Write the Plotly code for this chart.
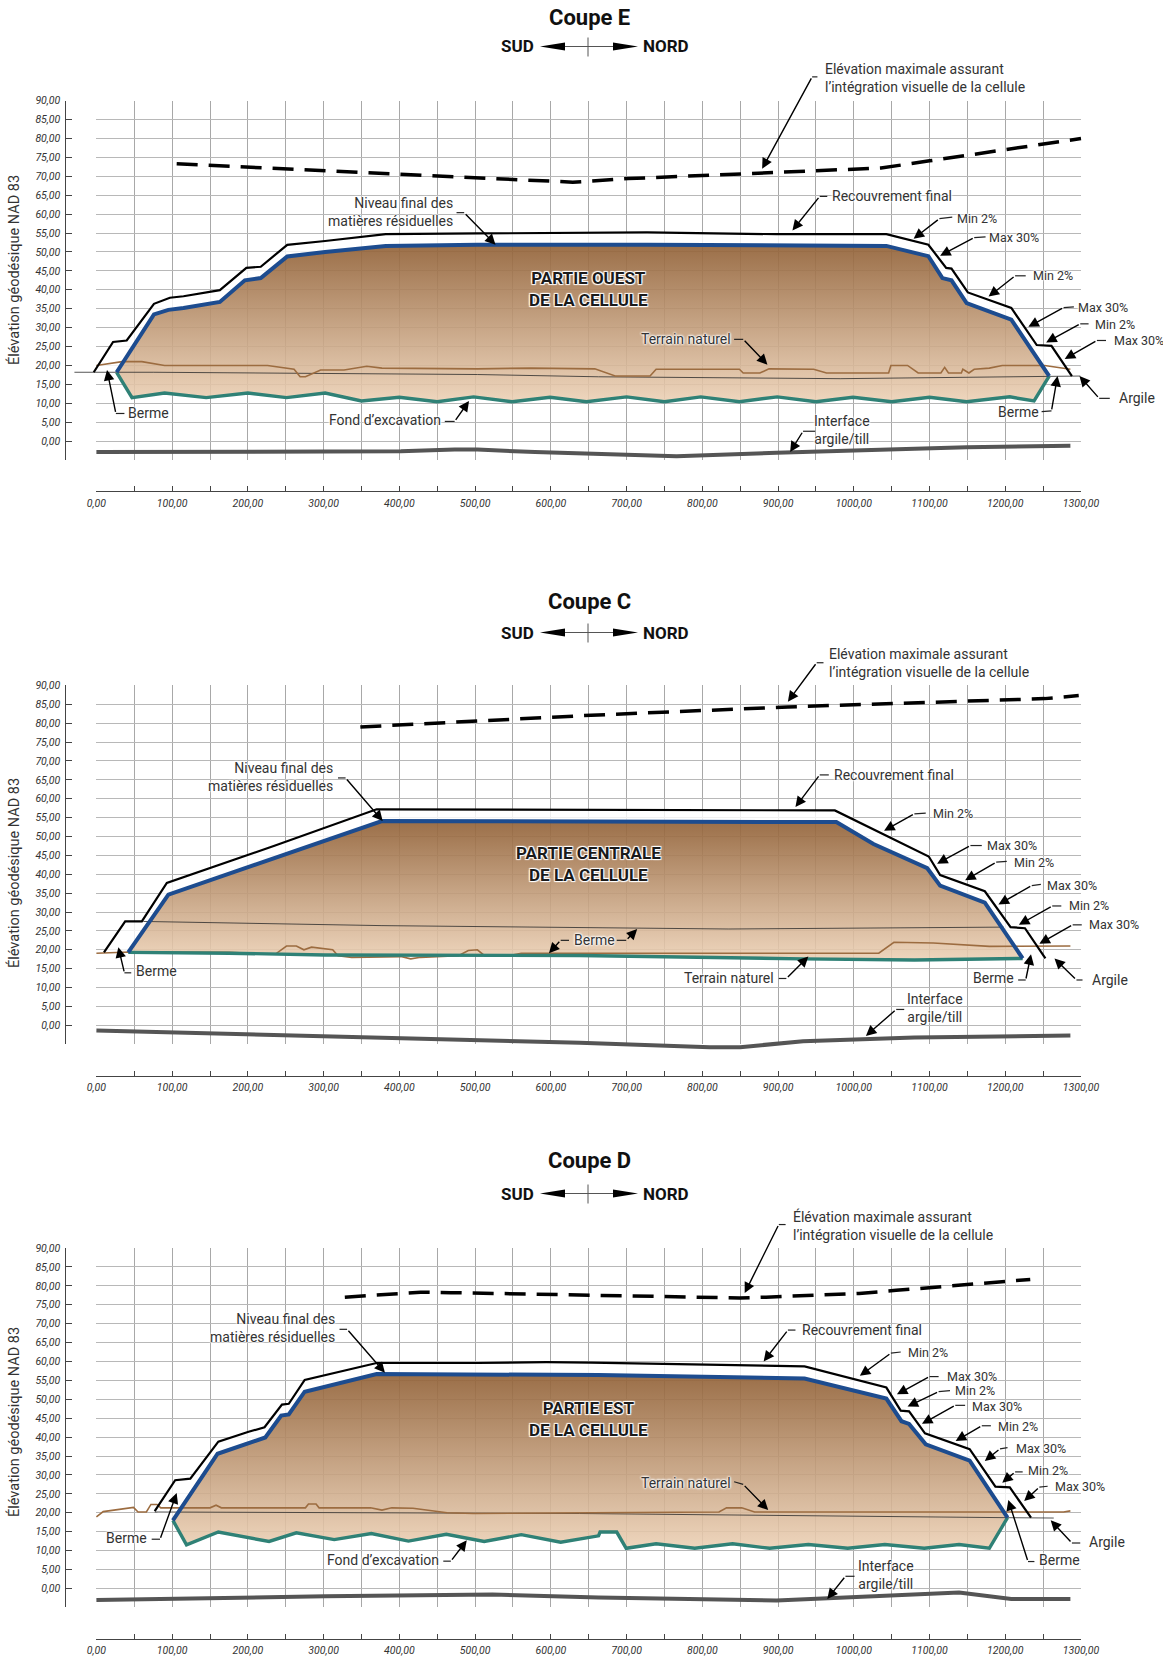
import plotly.graph_objects as go

X_TICKS = [0, 50, 100, 150, 200, 250, 300, 350, 400, 450, 500, 550, 600, 650, 700, 750, 800, 850, 900, 950, 1000, 1050, 1100, 1150, 1200, 1250, 1300]
X_TICK_LABELS = ["0,00", "", "100,00", "", "200,00", "", "300,00", "", "400,00", "", "500,00", "", "600,00", "", "700,00", "", "800,00", "", "900,00", "", "1000,00", "", "1100,00", "", "1200,00", "", "1300,00"]
Y_TICKS = [-5, 0, 5, 10, 15, 20, 25, 30, 35, 40, 45, 50, 55, 60, 65, 70, 75, 80, 85, 90]
Y_TICK_LABELS = ["", "0,00", "5,00", "10,00", "15,00", "20,00", "25,00", "30,00", "35,00", "40,00", "45,00", "50,00", "55,00", "60,00", "65,00", "70,00", "75,00", "80,00", "85,00", "90,00"]

# ---- Coupe E ----
e_cover_x = [-3.5, 22, 40, 76, 97, 115, 163, 198, 217, 252, 302, 382, 503, 727, 898, 1043, 1098.5, 1122, 1129, 1150.6, 1208, 1241.5, 1261, 1288]
e_cover_y = [18.2, 26.2, 26.6, 36.3, 37.9, 38.3, 39.9, 45.8, 46.1, 51.9, 52.9, 54.7, 54.9, 55.2, 54.7, 54.7, 51.9, 45.8, 45.6, 39.3, 35.2, 25.4, 25.2, 17.2]
e_waste_x = [26.7, 76, 95, 115, 163, 196, 217, 252, 302, 382, 503, 727, 1043, 1098.5, 1117, 1129, 1149, 1208, 1258]
e_waste_y = [18.2, 33.5, 34.7, 35.2, 36.8, 42.5, 43.1, 48.8, 50, 51.6, 51.9, 51.9, 51.6, 48.9, 43.1, 42.5, 36.5, 32.1, 17.2]
e_bottom_x = [26.7, 47, 90, 145, 200, 251, 302, 350, 400, 450, 498, 549, 599, 647, 700, 750, 798, 849, 899, 950, 999, 1050, 1100, 1149, 1206, 1238, 1258]
e_bottom_y = [18.2, 11.5, 12.7, 11.5, 12.7, 11.5, 12.7, 10.6, 11.6, 10.4, 11.7, 10.4, 11.6, 10.4, 11.7, 10.4, 11.7, 10.4, 11.7, 10.4, 11.6, 10.4, 11.6, 10.4, 11.7, 10.6, 17.2]
e_ground_x = [0, 34, 60, 90, 226, 261, 269, 276, 296, 327, 357, 377, 503, 574, 658, 685, 731, 739, 849, 854, 876, 888, 947, 964, 1046, 1049, 1071, 1085, 1115, 1120, 1125, 1142, 1144, 1152, 1159, 1179, 1196, 1252, 1286]
e_ground_y = [20, 21, 21, 20, 20, 19, 17, 17, 18.8, 18.8, 19.8, 19.3, 19.1, 19.3, 19.1, 17.2, 17.2, 19, 19, 18, 18, 19.1, 19, 18, 18, 20, 20, 18, 18, 19.5, 18, 18, 19, 18, 19, 19.3, 20, 20, 19]
e_clay_x = [-29, 75, 503, 663, 982, 1252, 1299]
e_clay_y = [18.2, 18.2, 17.6, 17, 16.5, 17, 17.2]
e_till_x = [0, 226, 402, 473, 503, 579, 663, 766, 898, 1149, 1286]
e_till_y = [-2.9, -2.7, -2.7, -2.25, -2.25, -2.9, -3.4, -4, -3.1, -1.6, -1.2]
e_limit_x = [106, 629, 702, 874, 1036, 1100, 1300]
e_limit_y = [73.3, 68.45, 69.4, 70.8, 72.2, 74.1, 80]

# ---- Coupe C ----
c_cover_x = [10, 38, 60, 93, 236, 370, 975, 1099, 1114, 1173, 1207, 1226, 1253]
c_cover_y = [19.3, 27.5, 27.5, 37.7, 47.6, 57.2, 56.9, 44.7, 39.8, 35.5, 26, 25.7, 17.7]
c_waste_x = [42, 95, 377, 977, 1026, 1097, 1114, 1173, 1223]
c_waste_y = [19.3, 34.6, 54.1, 53.8, 48, 41.6, 37, 32.5, 17.7]
c_bottom_x = [42, 175, 302, 638, 933, 1080, 1223]
c_bottom_y = [19.3, 19.1, 18.6, 18.5, 17.6, 17.3, 17.7]
c_ground_x = [0, 44, 175, 236, 251, 264, 274, 284, 312, 319, 337, 402, 415, 428, 478, 491, 503, 513, 549, 561, 599, 1033, 1053, 1105, 1179, 1286]
c_ground_y = [19.1, 19.4, 19.3, 18.8, 21, 21, 20, 20.7, 20, 18.4, 18, 18.2, 17.6, 18, 18.4, 19.8, 20, 18.4, 18.6, 19.1, 19.1, 19.1, 22, 21.8, 20.9, 21]
c_clay_x = [62, 377, 835, 1198]
c_clay_y = [27.5, 26.4, 25.5, 26]
c_till_x = [0, 503, 638, 810, 850, 933, 1080, 1286]
c_till_y = [-1.4, -4, -4.6, -5.8, -5.8, -4.2, -3.2, -2.7]
c_limit_x = [348.5, 643, 913, 1130, 1252, 1297]
c_limit_y = [79, 82, 84.3, 85.6, 86.5, 87.3]

# ---- Coupe D ----
d_cover_x = [77, 104, 124, 161, 201, 222, 245, 254, 275, 302, 370, 503, 594, 653, 849, 935, 1043, 1062, 1073, 1094, 1153, 1187, 1206, 1234]
d_cover_y = [20.4, 28.6, 29, 38.8, 41.4, 42.6, 48.6, 48.8, 55.1, 56.4, 59.6, 59.6, 59.8, 59.7, 58.9, 58.7, 53.1, 47, 46.8, 41, 36.8, 26.9, 26.7, 18.7]
d_waste_x = [101, 160, 223, 244, 254, 275, 370, 663, 935, 1043, 1063, 1073, 1095, 1153, 1203]
d_waste_y = [18, 35.6, 39.9, 45.7, 46, 52, 56.7, 56.4, 55.5, 50.2, 44.2, 43.5, 38.1, 33.8, 18.7]
d_bottom_x = [101, 119, 161, 228, 264, 314, 363, 412, 462, 512, 561, 613, 663, 665, 687, 699.5, 739, 790, 840, 889, 940, 992, 1041, 1093, 1139, 1179, 1203]
d_bottom_y = [18, 11.5, 14.9, 12.4, 14.7, 12.9, 14.5, 12.5, 14.3, 12.4, 14.2, 12.2, 13.9, 14.9, 14.9, 10.6, 11.8, 10.6, 11.8, 10.6, 11.6, 10.6, 11.6, 10.6, 11.6, 10.6, 18.7]
d_ground_x = [0, 9, 49, 55, 66, 72, 80, 85, 150, 158, 165, 276, 280, 290, 294, 362, 377, 390, 418, 463, 498, 663, 800, 822, 832, 852, 869, 1277, 1286]
d_ground_y = [18.9, 20.3, 21.4, 20.2, 20.2, 22.2, 22.2, 21.3, 21.3, 22, 21.3, 21.3, 22.3, 22.3, 21.3, 21.3, 20.7, 21.3, 21.2, 20, 19.8, 20, 20.2, 20.2, 21.3, 21.3, 20.2, 20.2, 20.5]
d_clay_x = [77, 462, 638, 1200, 1264]
d_clay_y = [20.2, 20, 19.8, 18.7, 18.6]
d_till_x = [0, 100, 302, 523, 663, 898, 1139, 1208, 1286]
d_till_y = [-3.1, -2.7, -2.1, -1.6, -2.4, -3.2, -1.1, -2.8, -2.8]
d_limit_x = [328, 428, 468, 663, 849, 884, 1007, 1056, 1233]
d_limit_y = [77, 78.3, 78.2, 77.4, 76.8, 77, 78, 78.8, 81.7]

ELEV = "Elévation maximale assurant<br>l’intégration visuelle de la cellule"
NIV = "Niveau final des<br>matières résiduelles"
INT = "Interface<br>argile/till"

# text, text x, text y, anchor, leader start, elbow, arrow head (axis units)
e_labels = [
    (ELEV, 960, 96, "left", (952, 96.3), (945, 96.3), (879, 72)),
    ("Recouvrement final", 968, 64.7, "left", (965, 64.7), (955, 64.7), (919, 55.7)),
    ("Min 2%", 1133, 58.8, "left", (1130, 59.2), (1113, 58.8), (1079, 53.5)),
    ("Max 30%", 1176, 53.8, "left", (1174, 54), (1159, 53.8), (1114, 49)),
    ("Min 2%", 1234, 43.7, "left", (1227, 43.7), (1213, 43.7), (1178, 38.2)),
    ("Max 30%", 1293, 35.2, "left", (1290.6, 35.5), (1277, 35.3), (1230.5, 30.2)),
    ("Min 2%", 1316, 30.9, "left", (1310, 31), (1299, 31), (1254, 26.1)),
    ("Max 30%", 1341, 26.6, "left", (1333, 26.6), (1321, 26.6), (1278.5, 21.7)),
    ("Argile", 1347, 11.3, "left", (1338, 11.3), (1324, 11.3), (1298, 17.2)),
    ("Berme", 1247, 7.8, "right", (1248, 7.8), (1261, 8), (1269, 17.2)),
    (INT, 985, 3, "center", (949, 2.6), (933, 2.6), (916, -2.9)),
    ("Terrain naturel", 840, 26.9, "right", (842, 26.9), (854, 26.9), (886, 20.2)),
    (NIV, 474, 60.7, "right", (475.5, 60.4), (485.6, 60.4), (527, 51.9)),
    ("Berme", 39.3, 7.5, "left", (37, 7.3), (25.7, 7.3), (14, 18.8)),
    ("Fond d’excavation", 458, 5.6, "right", (460, 5.2), (473, 5.2), (492, 10.6)),
]
c_labels = [
    (ELEV, 965, 95.9, "left", (960, 96), (951, 96), (913, 85.7)),
    ("Recouvrement final", 971, 66.3, "left", (967, 66.3), (955, 66.3), (923, 57.8)),
    ("Min 2%", 1101.5, 56.2, "left", (1095, 56.2), (1080, 56), (1040, 51.5)),
    ("Max 30%", 1173, 47.6, "left", (1169, 47.6), (1154, 47.6), (1110, 42.8)),
    ("Min 2%", 1209, 43.2, "left", (1202, 43.4), (1188, 43.2), (1147, 38.4)),
    ("Max 30%", 1253, 37, "left", (1247, 37.3), (1235, 37), (1191, 32)),
    ("Min 2%", 1281, 31.6, "left", (1274, 31.6), (1262, 31.6), (1218, 26.6)),
    ("Max 30%", 1308, 26.6, "left", (1301, 26.6), (1289, 26.6), (1245, 21.6)),
    ("Argile", 1312, 12, "left", (1302, 12), (1294, 12), (1265, 17.7)),
    ("Berme", 1214, 12.4, "right", (1217, 12), (1227, 12), (1234, 18.8)),
    (INT, 1107, 4.5, "center", (1066.6, 4.2), (1056, 4.2), (1016, -2.8)),
    ("Terrain naturel", 897, 12.4, "right", (901, 12.4), (911, 12.4), (940, 18.2)),
    ("Berme", 628, 22.5, "left", (624, 22.5), (613, 22.5), (597.5, 19.1)),
    ("", 690, 22.5, "left", (687, 22.5), (699.5, 22.5), (714, 25.5)),
    (NIV, 315, 65.8, "right", (319, 65.5), (329, 65.5), (378, 54.1)),
    ("Berme", 49.4, 14.3, "left", (46, 13.9), (37, 13.9), (29, 20.7)),
]
d_labels = [
    ("Élévation maximale assurant<br>l’intégration visuelle de la cellule", 917, 96, "left", (910, 96.2), (901, 96.2), (856, 78.1)),
    ("Recouvrement final", 929, 68.3, "left", (923, 68.3), (913, 68.3), (881, 60)),
    ("Min 2%", 1069.5, 62.5, "left", (1062, 62.5), (1049, 62.2), (1008, 56.2)),
    ("Max 30%", 1120, 56, "left", (1112, 56), (1100, 56), (1057, 51.3)),
    ("Min 2%", 1131, 52.3, "left", (1127, 52.3), (1112, 52), (1071, 48.1)),
    ("Max 30%", 1153, 48.2, "left", (1147, 48.4), (1134, 48.4), (1090, 43.5)),
    ("Min 2%", 1188, 42.9, "left", (1181, 43), (1169, 43), (1134.5, 39)),
    ("Max 30%", 1211, 37, "left", (1203, 37.2), (1193, 36.9), (1173, 33.7)),
    ("Min 2%", 1228, 31.2, "left", (1223, 30.8), (1213, 30.8), (1196, 27.9)),
    ("Max 30%", 1263, 27, "left", (1256, 27), (1245, 26.8), (1225, 23.1)),
    ("Argile", 1308, 12.2, "left", (1299, 12), (1288, 12), (1260, 18)),
    ("Berme", 1241.5, 7.6, "left", (1238.5, 7.1), (1230, 7.1), (1204, 23.4)),
    (INT, 1043, 3.5, "center", (1001, 3.2), (989, 3.2), (965, -2.8)),
    ("Terrain naturel", 840, 27.9, "right", (842, 28.2), (854, 27.5), (887, 20.7)),
    (NIV, 318, 68.75, "right", (321, 68.5), (331, 68.5), (381, 57)),
    ("Berme", 70, 13.3, "right", (73, 13), (84, 13), (106, 25.2)),
    ("Fond d’excavation", 455, 7.6, "right", (458, 7.2), (468, 7.2), (489, 12.7)),
]

COUPES = [
    dict(name="Coupe E", zone="PARTIE OUEST<br>DE LA CELLULE", zone_y=40.3, top=100.7, bottom=460.0, axis_y=491.0,
         title_y=17, dir_y=46.5, cover=(e_cover_x, e_cover_y), waste=(e_waste_x, e_waste_y), base=(e_bottom_x, e_bottom_y),
         ground=(e_ground_x, e_ground_y), clay=(e_clay_x, e_clay_y), till=(e_till_x, e_till_y), limit=(e_limit_x, e_limit_y), labels=e_labels, ylab=270),
    dict(name="Coupe C", zone="PARTIE CENTRALE<br>DE LA CELLULE", zone_y=42.6, top=685.4, bottom=1044.2, axis_y=1075.5,
         title_y=601, dir_y=632.5, cover=(c_cover_x, c_cover_y), waste=(c_waste_x, c_waste_y), base=(c_bottom_x, c_bottom_y),
         ground=(c_ground_x, c_ground_y), clay=(c_clay_x, c_clay_y), till=(c_till_x, c_till_y), limit=(c_limit_x, c_limit_y), labels=c_labels, ylab=873),
    dict(name="Coupe D", zone="PARTIE EST<br>DE LA CELLULE", zone_y=44.7, top=1248.0, bottom=1607.3, axis_y=1638.8,
         title_y=1160, dir_y=1193.5, cover=(d_cover_x, d_cover_y), waste=(d_waste_x, d_waste_y), base=(d_bottom_x, d_bottom_y),
         ground=(d_ground_x, d_ground_y), clay=(d_clay_x, d_clay_y), till=(d_till_x, d_till_y), limit=(d_limit_x, d_limit_y), labels=d_labels, ylab=1422),
]

W, H = 1163, 1660
LEFT, RIGHT = 96.4, 1081.0
FONT = "Roboto"
TEXT = "#333333"
HALO = "0 0 2px #fff, 0 0 2px #fff, 0 0 3px #fff, 0 0 3px #fff"
OUTLINE = "1px 1px 1px #fff, -1px -1px 1px #fff, 1px -1px 1px #fff, -1px 1px 1px #fff"
# the curves may overshoot the grid a little, so they use wider hidden axes with the same scale
PAD_X = (-40, 1325)
PAD_Y = -8


def px(v):
    return v / W


def py(v):
    return 1 - v / H


fig = go.Figure()
annotations, shapes = [], []
layout_axes = {}


def add_line(c, xa, ya, key, color, width, dash=None, name=None):
    xs, ys = c[key]
    line = dict(color=color, width=width)
    if dash:
        line["dash"] = dash
    fig.add_trace(go.Scatter(x=xs, y=ys, mode="lines", line=line, xaxis=xa, yaxis=ya,
                             hoverinfo="skip", showlegend=False, name=name))


# body fills first (visible axes), then curves (hidden wider axes)
for i, c in enumerate(COUPES):
    n = "" if i == 0 else str(i + 1)
    xa, ya = "x" + n, "y" + n
    cx, cy = c["cover"]
    wx, wy = c["waste"]
    bx, by = c["base"]
    fig.add_trace(go.Scatter(x=list(cx) + list(wx)[::-1], y=list(cy) + list(wy)[::-1], mode="none", fill="toself",
                             fillcolor="rgba(255,255,255,0.8)", xaxis=xa, yaxis=ya, hoverinfo="skip", showlegend=False))
    fig.add_trace(go.Scatter(x=list(wx) + list(bx)[::-1], y=list(wy) + list(by)[::-1], mode="none", fill="toself",
                             fillgradient=dict(type="vertical", colorscale=[[0, "rgba(236,208,180,0.88)"], [1, "rgba(146,98,56,0.92)"]]),
                             xaxis=xa, yaxis=ya, hoverinfo="skip", showlegend=False))

for i, c in enumerate(COUPES):
    n = "" if i == 0 else str(i + 1)
    m = str(i + 4)
    top, bottom = c["top"], c["bottom"]
    xscale = (RIGHT - LEFT) / 1300
    yscale = (bottom - top) / 95

    def dx(v):
        return px(LEFT + v * xscale)

    def dy(v, top=top, yscale=yscale):
        return py(top + (90 - v) * yscale)

    layout_axes["xaxis" + n] = dict(
        domain=[px(LEFT), px(RIGHT)], range=[0, 1300], anchor="free", position=py(c["axis_y"]),
        tickmode="array", tickvals=X_TICKS, ticktext=X_TICK_LABELS, ticks="inside", ticklen=5, tickwidth=1, tickcolor="#444",
        showline=True, linecolor="#444", linewidth=1, showgrid=True, gridcolor="#a8a8a8", gridwidth=1, zeroline=False,
        tickangle=0, ticklabelstandoff=2,
        tickfont=dict(family=FONT, size=10.5, color=TEXT, style="italic"))
    layout_axes["yaxis" + n] = dict(
        domain=[py(bottom), py(top)], range=[-5, 90], anchor="free", position=px(64.5),
        tickmode="array", tickvals=Y_TICKS, ticktext=Y_TICK_LABELS, ticks="inside", ticklen=6, tickwidth=1, tickcolor="#444",
        showline=True, linecolor="#444", linewidth=1.2, showgrid=True, gridcolor="#b8b8b8", gridwidth=1.4, zeroline=False,
        ticklabelstandoff=2,
        tickfont=dict(family=FONT, size=10.5, color=TEXT, style="italic"))
    layout_axes["xaxis" + m] = dict(
        domain=[px(LEFT + PAD_X[0] * xscale), px(LEFT + PAD_X[1] * xscale)], range=list(PAD_X), anchor="y" + m, visible=False)
    layout_axes["yaxis" + m] = dict(
        domain=[py(top + (90 - PAD_Y) * yscale), py(top)], range=[PAD_Y, 90], anchor="x" + m, visible=False)

    xa, ya = "x" + m, "y" + m
    add_line(c, xa, ya, "clay", "#2b2b2b", 0.8, name="Argile")
    add_line(c, xa, ya, "ground", "#9c6c40", 1.6, name="Terrain naturel")
    add_line(c, xa, ya, "base", "#2f8176", 3.4, name="Fond d'excavation")
    add_line(c, xa, ya, "waste", "#1d4c8f", 4, name="Niveau final des matières résiduelles")
    add_line(c, xa, ya, "cover", "#000000", 2.2, name="Recouvrement final")
    add_line(c, xa, ya, "till", "#555555", 4, name="Interface argile/till")
    add_line(c, xa, ya, "limit", "#000000", 3.5, dash="21px,11px", name="Élévation maximale")

    # header
    annotations.append(dict(text="<b>%s</b>" % c["name"], xref="paper", yref="paper", x=px(589), y=py(c["title_y"]),
                            showarrow=False, xanchor="center", yanchor="middle",
                            font=dict(family=FONT, size=22, color="#111")))
    dy_ = c["dir_y"]
    annotations.append(dict(text="<b>SUD</b>", xref="paper", yref="paper", x=px(517), y=py(dy_), showarrow=False,
                            xanchor="center", yanchor="middle", font=dict(family=FONT, size=17, color="#111")))
    annotations.append(dict(text="<b>NORD</b>", xref="paper", yref="paper", x=px(666), y=py(dy_), showarrow=False,
                            xanchor="center", yanchor="middle", font=dict(family=FONT, size=17, color="#111")))
    shapes.append(dict(type="line", xref="paper", yref="paper", x0=px(565), x1=px(613), y0=py(dy_), y1=py(dy_),
                       line=dict(color="#555", width=1)))
    shapes.append(dict(type="line", xref="paper", yref="paper", x0=px(588), x1=px(588), y0=py(dy_ - 9), y1=py(dy_ + 10),
                       line=dict(color="#555", width=1)))
    shapes.append(dict(type="path", xref="paper", yref="paper", fillcolor="#000", line=dict(width=0),
                       path="M %f %f L %f %f L %f %f Z" % (px(540), py(dy_), px(565), py(dy_ - 4), px(565), py(dy_ + 4))))
    shapes.append(dict(type="path", xref="paper", yref="paper", fillcolor="#000", line=dict(width=0),
                       path="M %f %f L %f %f L %f %f Z" % (px(638), py(dy_), px(613), py(dy_ - 4), px(613), py(dy_ + 4))))

    # y axis title
    annotations.append(dict(text="Élévation géodésique NAD 83", xref="paper", yref="paper", x=px(14), y=py(c["ylab"]),
                            textangle=-90, showarrow=False, xanchor="center", yanchor="middle",
                            font=dict(family=FONT, size=14.5, color=TEXT)))
    # zone label
    annotations.append(dict(text="<b>%s</b>" % c["zone"], xref="paper", yref="paper", x=dx(650), y=dy(c["zone_y"]),
                            showarrow=False, xanchor="center", yanchor="middle", align="center",
                            font=dict(family=FONT, size=17, color="#1a1a1a", shadow=OUTLINE)))

    for text, tx, ty, anchor, p0, p1, head in c["labels"]:
        if text.startswith(("Min", "Max")):
            size = 12.5
        else:
            size = 14
        if text:
            annotations.append(dict(text=text, xref="paper", yref="paper", x=dx(tx), y=dy(ty), showarrow=False,
                                    xanchor=anchor, yanchor="middle", align=anchor,
                                    font=dict(family=FONT, size=size, color=TEXT, shadow=HALO)))
        shapes.append(dict(type="line", xref="paper", yref="paper", x0=dx(p0[0]), y0=dy(p0[1]), x1=dx(p1[0]), y1=dy(p1[1]),
                           line=dict(color="#222", width=1.2)))
        annotations.append(dict(text="", xref="paper", yref="paper", axref="pixel", ayref="pixel",
                                x=dx(head[0]), y=dy(head[1]),
                                ax=(p1[0] - head[0]) * xscale, ay=-(p1[1] - head[1]) * yscale, showarrow=True,
                                arrowhead=2, arrowsize=1.5, arrowwidth=1.4, arrowcolor="#000"))

fig.update_layout(width=W, height=H, margin=dict(l=0, r=0, t=0, b=0, autoexpand=False), paper_bgcolor="white",
                  plot_bgcolor="rgba(0,0,0,0)", showlegend=False, annotations=annotations, shapes=shapes, **layout_axes)
fig.write_html("out.html", config={"displayModeBar": False},
               post_script="document.body.style.margin='0';document.documentElement.style.overflow='hidden';")
